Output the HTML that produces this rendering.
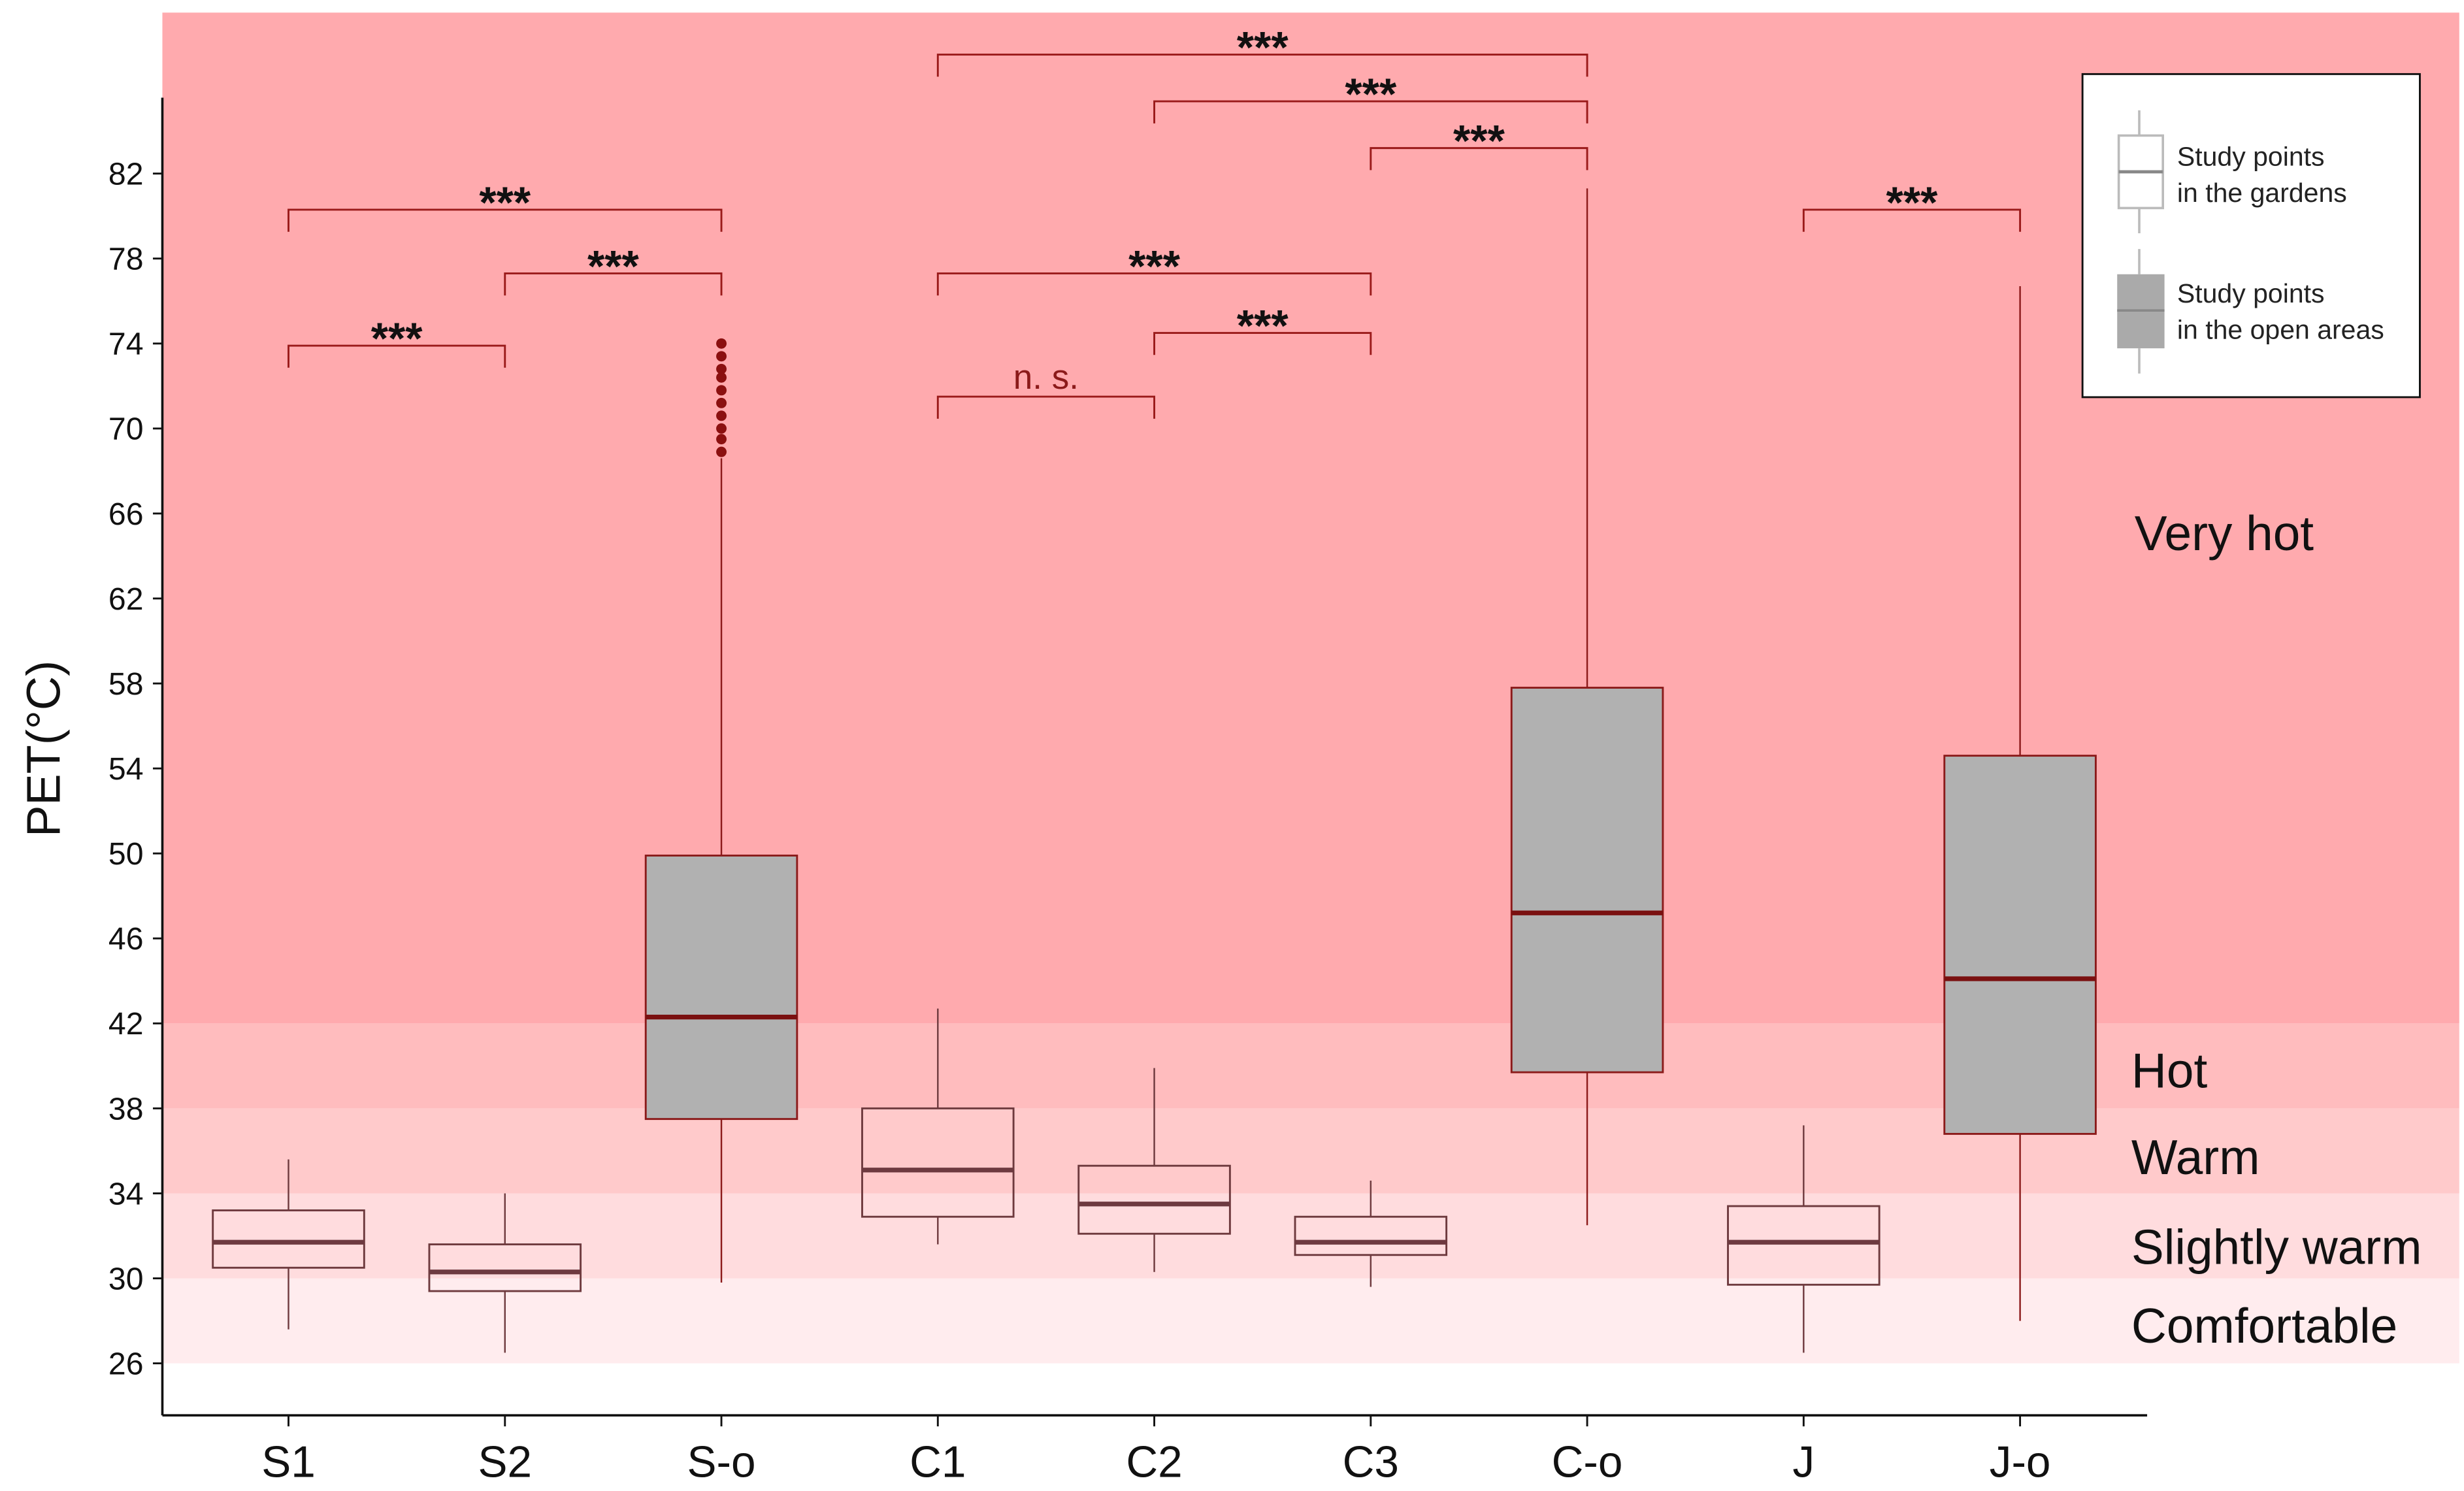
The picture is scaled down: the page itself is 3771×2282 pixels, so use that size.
<!DOCTYPE html>
<html><head><meta charset="utf-8"><style>html,body{margin:0;padding:0;background:#fff}svg{display:block}</style></head>
<body>
<svg id="chart" xmlns="http://www.w3.org/2000/svg" width="3771" height="2282" viewBox="0 0 1563 946" preserveAspectRatio="none" font-family="'Liberation Sans', Arial, sans-serif">
<rect width="1563" height="946" fill="#fff"/>
<g id="bands"></g>
<g id="axes"></g>
<g id="boxes"></g>
<g id="brackets"></g>
<g>
  <rect x="1321" y="47" width="214" height="205" fill="#fff" stroke="#111" stroke-width="1.2"/>
  <line x1="1357" y1="70" x2="1357" y2="86" stroke="#bbb" stroke-width="1.5"/>
  <rect x="1344" y="86" width="28" height="46" fill="#fff" stroke="#bbb" stroke-width="1.5"/>
  <line x1="1344" y1="109" x2="1372" y2="109" stroke="#888" stroke-width="2"/>
  <line x1="1357" y1="132" x2="1357" y2="148" stroke="#bbb" stroke-width="1.5"/>
  <text x="1381" y="105" font-size="17" fill="#222">Study points</text>
  <text x="1381" y="128" font-size="17" fill="#222">in the gardens</text>
  <line x1="1357" y1="158" x2="1357" y2="174" stroke="#bbb" stroke-width="1.5"/>
  <rect x="1343" y="174" width="30" height="47" fill="#aaa"/>
  <line x1="1343" y1="197" x2="1373" y2="197" stroke="#888" stroke-width="1.5"/>
  <line x1="1357" y1="221" x2="1357" y2="237" stroke="#bbb" stroke-width="1.5"/>
  <text x="1381" y="192" font-size="17" fill="#222">Study points</text>
  <text x="1381" y="215" font-size="17" fill="#222">in the open areas</text>
</g>
<text transform="translate(38,475) rotate(-90)" text-anchor="middle" font-size="30" fill="#111">PET(°C)</text>
<text x="1354" y="349" font-size="31" fill="#111">Very hot</text>
<text x="1352" y="690" font-size="31" fill="#111">Hot</text>
<text x="1352" y="745" font-size="31" fill="#111">Warm</text>
<text x="1352" y="802" font-size="31" fill="#111">Slightly warm</text>
<text x="1352" y="852" font-size="31" fill="#111">Comfortable</text>
</svg>
<script>
const categories=["S1","S2","S-o","C1","C2","C3","C-o","J","J-o"];
const lowWhisker=[27.6,26.5,29.8,31.6,30.3,29.6,32.5,26.5,28.0];
const q1=[30.5,29.4,37.5,32.9,32.1,31.1,39.7,29.7,36.8];
const median=[31.7,30.3,42.3,35.1,33.5,31.7,47.2,31.7,44.1];
const q3=[33.2,31.6,49.9,38.0,35.3,32.9,57.8,33.4,54.6];
const highWhisker=[35.6,34.0,68.6,42.7,39.9,34.6,81.3,37.2,76.7];
const outliersSo=[68.9,69.5,70.0,70.6,71.2,71.8,72.4,72.8,73.4,74.0];
const yTicks=[26,30,34,38,42,46,50,54,58,62,66,70,74,78,82];
const bandLimits=[26,30,34,38,42];
const bandColors=["#ffecee","#ffdcde","#ffcacb","#ffbcbe","#ffaaae"];
const bracketFrom=[0,0,1,3,4,5,3,4,7];
const bracketTo=[1,2,2,6,6,6,5,5,8];
const bracketLevel=[73.9,80.3,77.3,87.6,85.4,83.2,77.3,74.5,80.3];
const bracketLabels=["***","***","***","***","***","***","***","***","***"];
const nsFrom=3, nsTo=4, nsLevel=71.5;

const NS="http://www.w3.org/2000/svg";
const yS=v=>865-(v-26)*13.48;
const xS=i=>183+i*137.3;
function mk(tag,attrs,parent){const e=document.createElementNS(NS,tag);for(const k in attrs)e.setAttribute(k,attrs[k]);parent.appendChild(e);return e;}
const bands=document.getElementById('bands');
for(let i=0;i<bandLimits.length;i++){
  const top=i<bandLimits.length-1?yS(bandLimits[i+1]):8;
  const r=mk('rect',{x:103,y:top,width:1457,height:yS(bandLimits[i])-top,fill:bandColors[i]},bands);
  
  
}
const axes=document.getElementById('axes');
mk('line',{x1:103,y1:62,x2:103,y2:898,stroke:'#111','stroke-width':1.5},axes);
mk('line',{x1:103,y1:898,x2:1362,y2:898,stroke:'#111','stroke-width':1.5},axes);
yTicks.forEach(v=>{
  mk('line',{x1:97,y1:yS(v),x2:103,y2:yS(v),stroke:'#111','stroke-width':1.2},axes);
  const t=mk('text',{x:91,y:yS(v)+7,'text-anchor':'end','font-size':20,fill:'#111'},axes);
  t.textContent=v;
  
  
});
categories.forEach((c,i)=>{
  mk('line',{x1:xS(i),y1:898,x2:xS(i),y2:905,stroke:'#111','stroke-width':1.2},axes);
  const t=mk('text',{x:xS(i),y:937,'text-anchor':'middle','font-size':28,fill:'#111'},axes);
  t.textContent=c;
  
  
});
const boxes=document.getElementById('boxes');
categories.forEach((c,i)=>{
  const open=(i===2||i===6||i===8);
  const g=mk('g',{},boxes);
  
  
  const x=xS(i), w=48;
  const wc=open?'#8b1a1a':'#6e3a3e';
  mk('line',{x1:x,y1:yS(lowWhisker[i]),x2:x,y2:yS(q1[i]),stroke:wc,'stroke-width':1},g);
  mk('line',{x1:x,y1:yS(q3[i]),x2:x,y2:yS(highWhisker[i]),stroke:wc,'stroke-width':1},g);
  mk('rect',{x:x-w,y:yS(q3[i]),width:2*w,height:yS(q1[i])-yS(q3[i]),fill:open?'#b1b1b1':'none',stroke:wc,'stroke-width':1.2},g);
  mk('line',{x1:x-w,y1:yS(median[i]),x2:x+w,y2:yS(median[i]),stroke:open?'#7a1010':'#6e3a40','stroke-width':3},g);
});
outliersSo.forEach(v=>{
  const c=mk('circle',{cx:xS(2),cy:yS(v),r:3.3,fill:'#8b1010'},boxes);
  
  
});
const br=document.getElementById('brackets');
function bracket(a,b,lvl,label,color,fs){
  const g=mk('g',{},br);
  
  
  const y=yS(lvl);
  mk('path',{d:'M'+xS(a)+','+(y+14)+' V'+y+' H'+xS(b)+' V'+(y+14),fill:'none',stroke:'#9a1a1a','stroke-width':1.2},g);
  const t=mk('text',{x:(xS(a)+xS(b))/2,y:label==='***'?y+5:y-5,'text-anchor':'middle','font-size':fs,fill:color,'font-weight':label==='***'?'bold':'normal'},g);
  t.textContent=label;
}
bracketFrom.forEach((a,k)=>bracket(a,bracketTo[k],bracketLevel[k],bracketLabels[k],'#111',28));
bracket(nsFrom,nsTo,nsLevel,'n. s.','#8b1a1a',22);
</script>
</body></html>
